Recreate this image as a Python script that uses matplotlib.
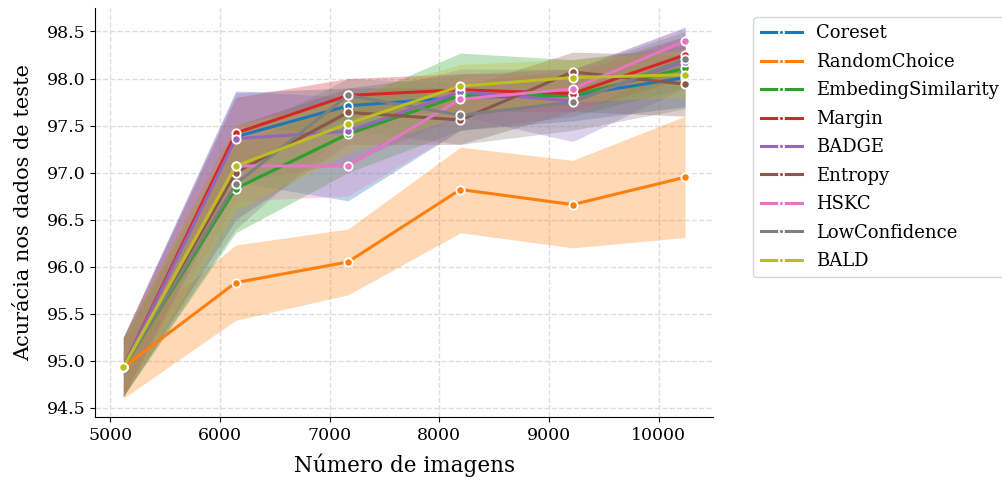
from matplotlib import pyplot as plt
import numpy as np

plt.rcParams['font.family'] = 'DejaVu Serif'

x = [5120, 6144, 7168, 8192, 9216, 10240]

names = ['Coreset', 'RandomChoice', 'EmbedingSimilarity', 'Margin', 'BADGE',
         'Entropy', 'HSKC', 'LowConfidence', 'BALD']

# mean accuracy per method
coreset = [94.93, 97.38, 97.71, 97.80, 97.82, 98.01]
random_choice = [94.93, 95.83, 96.05, 96.82, 96.66, 96.95]
embeding = [94.93, 96.83, 97.41, 97.82, 97.82, 98.11]
margin = [94.93, 97.42, 97.82, 97.88, 97.84, 98.25]
badge = [94.93, 97.36, 97.44, 97.86, 97.76, 98.18]
entropy = [94.93, 97.00, 97.64, 97.56, 98.07, 97.94]
hskc = [94.93, 97.07, 97.07, 97.78, 97.89, 98.40]
lowconf = [94.93, 96.88, 97.82, 97.61, 97.75, 98.21]
bald = [94.93, 97.07, 97.52, 97.92, 98.01, 98.04]

# confidence band (lower / upper)
coreset_lo = [94.62, 96.90, 96.70, 97.45, 97.55, 97.70]
coreset_hi = [95.25, 97.85, 97.90, 98.05, 98.10, 98.54]
random_lo = [94.60, 95.43, 95.70, 96.36, 96.20, 96.31]
random_hi = [95.25, 96.23, 96.40, 97.27, 97.13, 97.60]
embeding_lo = [94.62, 96.36, 97.00, 97.45, 97.60, 97.90]
embeding_hi = [95.25, 97.30, 97.75, 98.27, 98.20, 98.35]
margin_lo = [94.62, 97.00, 97.60, 97.65, 97.65, 98.00]
margin_hi = [95.25, 97.80, 98.00, 98.05, 98.05, 98.45]
badge_lo = [94.62, 96.90, 97.10, 97.60, 97.33, 97.90]
badge_hi = [95.25, 97.87, 97.80, 98.10, 98.10, 98.45]
entropy_lo = [94.62, 96.50, 97.30, 97.30, 97.65, 97.60]
entropy_hi = [95.25, 97.50, 97.90, 97.90, 98.28, 98.25]
hskc_lo = [94.62, 96.70, 96.75, 97.45, 97.60, 98.20]
hskc_hi = [95.25, 97.50, 97.40, 98.00, 98.10, 98.55]
lowconf_lo = [94.62, 96.40, 97.45, 97.30, 97.45, 97.68]
lowconf_hi = [95.25, 97.40, 98.00, 97.95, 98.10, 98.50]
bald_lo = [94.62, 96.60, 97.20, 97.60, 97.75, 97.80]
bald_hi = [95.25, 97.50, 97.80, 98.15, 98.20, 98.30]

means = [coreset, random_choice, embeding, margin, badge, entropy, hskc, lowconf, bald]
lows = [coreset_lo, random_lo, embeding_lo, margin_lo, badge_lo, entropy_lo, hskc_lo, lowconf_lo, bald_lo]
highs = [coreset_hi, random_hi, embeding_hi, margin_hi, badge_hi, entropy_hi, hskc_hi, lowconf_hi, bald_hi]

colors = plt.rcParams['axes.prop_cycle'].by_key()['color']

fig, ax = plt.subplots(figsize=(10.03, 4.82), dpi=100)
fig.subplots_adjust(left=0.095, right=0.711, top=0.983, bottom=0.135)

for i, name in enumerate(names):
    c = colors[i]
    ax.fill_between(x, lows[i], highs[i], color=c, alpha=0.3, linewidth=0)
    ax.plot(x, means[i], color=c, linewidth=2.2, marker='o', markersize=6,
            markeredgecolor='white', markeredgewidth=1.3, label=name)

ax.grid(True, linestyle='--', color='#dddddd', linewidth=1)
ax.set_axisbelow(True)
ax.spines['top'].set_visible(False)
ax.spines['right'].set_visible(False)
ax.set_yticks(np.arange(94.5, 98.51, 0.5))
ax.tick_params(labelsize=12.5)
ax.set_xlabel('Número de imagens', fontsize=15.5, labelpad=7)
ax.set_ylabel('Acurácia nos dados de teste', fontsize=15, labelpad=10)

ax.legend(loc='upper left', bbox_to_anchor=(1.065, 0.978), borderaxespad=0,
          fontsize=13, markerscale=0.6, handlelength=2.3, labelspacing=0.58)

plt.savefig('out.png')
